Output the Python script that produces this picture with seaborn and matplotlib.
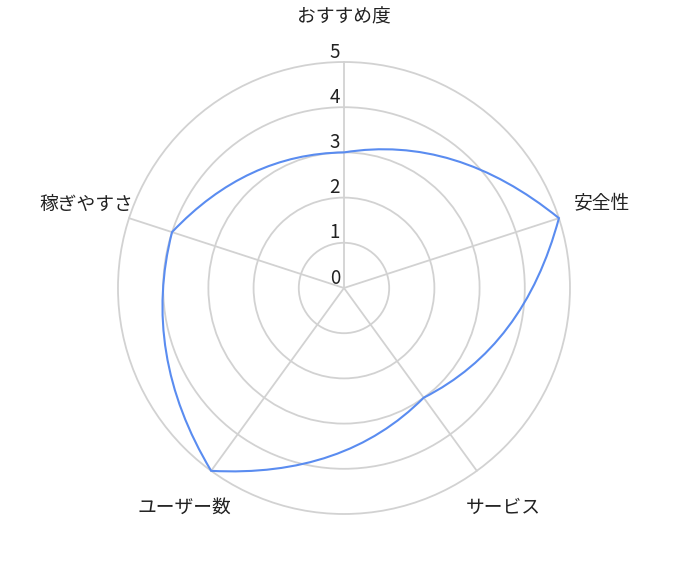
import numpy as np
import matplotlib
matplotlib.use("Agg")
import matplotlib.pyplot as plt
import matplotlib.transforms as mtransforms
from matplotlib.path import Path
from matplotlib.patches import PathPatch, Circle
import seaborn as sns

categories = ["おすすめ度", "安全性", "サービス", "ユーザー数", "稼ぎやすさ"]
scores = [3, 5, 3, 5, 4]
ring_values = [0, 1, 2, 3, 4, 5]

LINE_COLOR = "#5a8cf0"
GRID_COLOR = "#d2d2d2"
TEXT_COLOR = "#222222"
BOW = 1.05  # how far each segment bulges outward

sns.set_style("white")
plt.rcParams["font.family"] = ["Noto Sans CJK JP", "DejaVu Sans"]

fig = plt.figure(figsize=(6.94, 5.74), dpi=100)
ax = fig.add_axes([0.17, 0.1045, 0.6513, 0.7875])
ax.set_xlim(-5, 5)
ax.set_ylim(-5, 5)
ax.set_aspect("equal")
ax.axis("off")

# first axis points up, the rest follow clockwise
n = len(categories)
angles = np.pi / 2 - np.arange(n) * 2 * np.pi / n


def to_xy(angle, r):
    return r * np.cos(angle), r * np.sin(angle)


# rings and spokes
for v in ring_values[1:]:
    ax.add_patch(Circle((0, 0), v, fill=False, edgecolor=GRID_COLOR, lw=1.3,
                        zorder=1, clip_on=False))
for a in angles:
    x, y = to_xy(a, ring_values[-1])
    ax.plot([0, x], [0, y], color=GRID_COLOR, lw=1.3, zorder=1, clip_on=False)

# data outline: each side bows outward, with a corner at every point
verts = [to_xy(angles[0], scores[0])]
codes = [Path.MOVETO]
for i in range(n):
    j = (i + 1) % n
    mid_angle = angles[i] - np.pi / n
    verts.append(to_xy(mid_angle, BOW * (scores[i] + scores[j]) / 2))
    verts.append(to_xy(angles[j], scores[j]))
    codes += [Path.CURVE3, Path.CURVE3]
ax.add_patch(PathPatch(Path(verts, codes), facecolor="none", edgecolor=LINE_COLOR,
                       lw=1.5, zorder=3, clip_on=False))

# category labels
for a, name in zip(angles, categories):
    x, y = to_xy(a, 6.0)
    ax.text(x, y, name, ha="center", va="center", fontsize=13.5,
            color=TEXT_COLOR, clip_on=False)

# radial tick labels
offset = mtransforms.offset_copy(ax.transData, fig=fig, x=-4, y=10, units="dots")
for v in ring_values:
    ax.text(0, v, str(v), transform=offset, ha="right", va="center",
            fontsize=13.5, color=TEXT_COLOR)

fig.savefig("out.png", dpi=100)
